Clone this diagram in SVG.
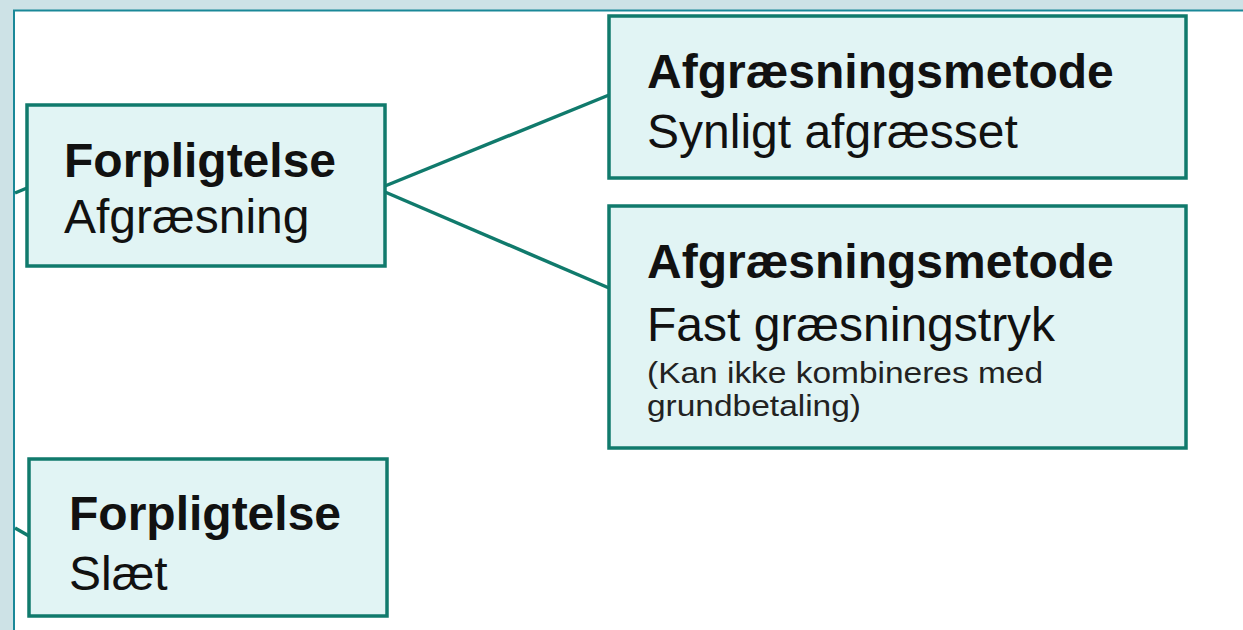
<svg xmlns="http://www.w3.org/2000/svg" width="1243" height="630" viewBox="0 0 1243 630">
  <style>
    .node { fill: #e1f4f4; stroke: #107a6c; stroke-width: 3.5; }
    .link { stroke: #107a6c; stroke-width: 3.5; fill: none; }
    .head { font-family: "Liberation Sans", Arial, sans-serif; font-weight: bold; font-size: 48px; fill: #111; }
    .body { font-family: "Liberation Sans", Arial, sans-serif; font-size: 48px; fill: #111; }
    .note { font-family: "Liberation Sans", Arial, sans-serif; font-size: 29px; fill: #222; }
  </style>

  <!-- backdrop and panel -->
  <rect x="0" y="0" width="1243" height="630" fill="#cde2e6"/>
  <rect x="14" y="10.5" width="1240" height="630" fill="#ffffff" stroke="#1a8898" stroke-width="2"/>

  <!-- connectors -->
  <g id="connectors">
    <line class="link" x1="15" y1="193" x2="27" y2="188"/>
    <line class="link" x1="15" y1="528" x2="29" y2="536"/>
    <line class="link" x1="385" y1="186" x2="609" y2="95"/>
    <line class="link" x1="385" y1="192" x2="609" y2="288"/>
  </g>

  <g id="forpligtelse-afgraesning">
    <rect class="node" x="27" y="105" width="358" height="161"/>
    <text class="head" x="64" y="177">Forpligtelse</text>
    <text class="body" x="64" y="233">Afgræsning</text>
  </g>

  <g id="metode-synligt">
    <rect class="node" x="609" y="16" width="577" height="162"/>
    <text class="head" x="647" y="88">Afgræsningsmetode</text>
    <text class="body" x="647" y="148">Synligt afgræsset</text>
  </g>

  <g id="metode-fast">
    <rect class="node" x="609" y="206" width="577" height="242"/>
    <text class="head" x="647" y="278">Afgræsningsmetode</text>
    <text class="body" x="647" y="341">Fast græsningstryk</text>
    <text class="note" x="647" y="383" textLength="396" lengthAdjust="spacingAndGlyphs">(Kan ikke kombineres med</text>
    <text class="note" x="647" y="416" textLength="214" lengthAdjust="spacingAndGlyphs">grundbetaling)</text>
  </g>

  <g id="forpligtelse-slaet">
    <rect class="node" x="29" y="459" width="358" height="157"/>
    <text class="head" x="69" y="530">Forpligtelse</text>
    <text class="body" x="69" y="590">Slæt</text>
  </g>
</svg>
